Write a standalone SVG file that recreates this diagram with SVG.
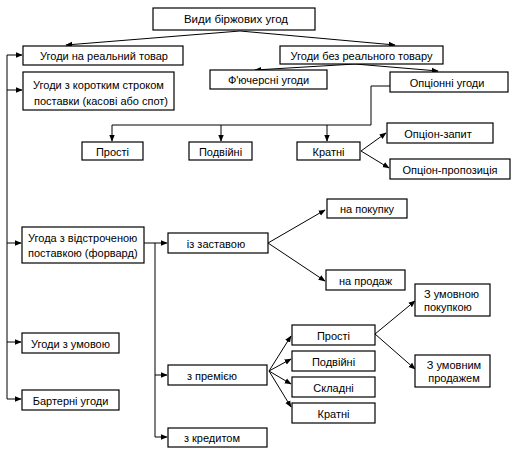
<svg xmlns="http://www.w3.org/2000/svg" width="518" height="456" viewBox="0 0 518 456">
<defs>
<marker id="ah" viewBox="0 0 10 10" refX="9" refY="5" markerWidth="7" markerHeight="7" markerUnits="userSpaceOnUse" orient="auto">
<path d="M0,1 L10,5 L0,9 z" fill="#000"/>
</marker>
<style>
rect{fill:#fff;stroke:#000;stroke-width:1.2}
text{font-family:"Liberation Sans",Arial,sans-serif;font-size:11px;fill:#000}
.c{text-anchor:middle}
.t{font-size:11.5px}
#connectors line,#connectors polyline{stroke:#000;stroke-width:1;fill:none}
.a{marker-end:url(#ah)}
</style>
</defs>
<rect x="0" y="0" width="518" height="456" style="fill:#fff;stroke:none"/>
<g id="connectors">
<line class="a" x1="240" y1="31" x2="66" y2="45"/>
<line class="a" x1="240" y1="31" x2="395" y2="45"/>
<line class="a" x1="355" y1="64" x2="255" y2="70"/>
<line class="a" x1="355" y1="64" x2="438" y2="71"/>
<polyline points="390,86 371,86 371,125 112,125"/>
<line class="a" x1="112" y1="125" x2="112" y2="141"/>
<line class="a" x1="221" y1="125" x2="221" y2="141"/>
<line class="a" x1="327" y1="125" x2="327" y2="141"/>
<line class="a" x1="361" y1="151" x2="386" y2="133"/>
<line class="a" x1="361" y1="151" x2="389" y2="168"/>
<line x1="7" y1="55" x2="7" y2="399"/>
<line class="a" x1="7" y1="55" x2="22" y2="55"/>
<line class="a" x1="7" y1="90" x2="22" y2="90"/>
<line class="a" x1="7" y1="243" x2="21" y2="243"/>
<line class="a" x1="7" y1="342" x2="21" y2="342"/>
<line class="a" x1="7" y1="399" x2="21" y2="399"/>
<line class="a" x1="144" y1="243" x2="167" y2="243"/>
<line x1="155" y1="243" x2="155" y2="437"/>
<line class="a" x1="155" y1="375" x2="167" y2="375"/>
<line class="a" x1="155" y1="437" x2="167" y2="437"/>
<line class="a" x1="268" y1="243" x2="325" y2="210"/>
<line class="a" x1="268" y1="243" x2="325" y2="281"/>
<line class="a" x1="269" y1="371" x2="291" y2="336"/>
<line class="a" x1="269" y1="371" x2="291" y2="359"/>
<line class="a" x1="269" y1="371" x2="291" y2="384"/>
<line class="a" x1="269" y1="371" x2="291" y2="407"/>
<line class="a" x1="375" y1="334" x2="415" y2="301"/>
<line class="a" x1="375" y1="334" x2="415" y2="369"/>
</g>
<g id="n-root"><rect x="153" y="8" width="162" height="22"/><text class="c t" x="236" y="23">Види біржових угод</text></g>
<g id="n-real"><rect x="23" y="46" width="160" height="19"/><text class="c" x="104" y="60">Угоди на реальний товар</text></g>
<g id="n-noreal"><rect x="280" y="46" width="163" height="18"/><text class="c" x="361.5" y="59.5">Угоди без реального товару</text></g>
<g id="n-short"><rect x="23" y="72" width="151" height="38"/><text x="33" y="89">Угоди з коротким строком</text><text x="34" y="105">поставки (касові або спот)</text></g>
<g id="n-futures"><rect x="210" y="70" width="117" height="19"/><text class="c" x="268.5" y="84">Ф'ючерсні угоди</text></g>
<g id="n-options"><rect x="390" y="72" width="118" height="20"/><text class="c" x="447" y="86.5">Опціонні угоди</text></g>
<g id="n-simple1"><rect x="82" y="142" width="61" height="18"/><text class="c" x="112.5" y="155.5">Прості</text></g>
<g id="n-double1"><rect x="189" y="142" width="63" height="18"/><text class="c" x="220.5" y="155.5">Подвійні</text></g>
<g id="n-multi1"><rect x="297" y="142" width="63" height="18"/><text class="c" x="328.5" y="155.5">Кратні</text></g>
<g id="n-call"><rect x="387" y="123" width="106" height="20"/><text class="c" x="438" y="137.5">Опціон-запит</text></g>
<g id="n-put"><rect x="390" y="159" width="120" height="20"/><text class="c" x="450" y="173.5">Опціон-пропозиція</text></g>
<g id="n-forward"><rect x="22" y="227" width="122" height="36"/><text x="28" y="242">Угода з відстроченою</text><text x="28" y="257">поставкою (форвард)</text></g>
<g id="n-pledge"><rect x="168" y="233" width="100" height="20"/><text class="c" x="216" y="247.5">із заставою</text></g>
<g id="n-buy"><rect x="327" y="199" width="80" height="19"/><text class="c" x="367" y="213">на покупку</text></g>
<g id="n-sell"><rect x="326" y="270" width="79" height="20"/><text class="c" x="365.5" y="284.5">на продаж</text></g>
<g id="n-condbuy"><rect x="415" y="284" width="75" height="32"/><text x="424" y="298">З умовною</text><text x="424" y="311">покупкою</text></g>
<g id="n-condsell"><rect x="415" y="355" width="75" height="32"/><text class="c" x="454" y="369">З умовним</text><text class="c" x="454" y="381.5">продажем</text></g>
<g id="n-simple2"><rect x="292" y="325" width="83" height="20"/><text class="c" x="333.5" y="339.5">Прості</text></g>
<g id="n-double2"><rect x="292" y="351" width="83" height="20"/><text class="c" x="333.5" y="365.5">Подвійні</text></g>
<g id="n-complex"><rect x="292" y="377" width="83" height="20"/><text class="c" x="333.5" y="391.5">Складні</text></g>
<g id="n-multi2"><rect x="292" y="403" width="83" height="20"/><text class="c" x="333.5" y="417.5">Кратні</text></g>
<g id="n-premium"><rect x="168" y="365" width="99" height="20"/><text class="c" x="212" y="379.5">з премією</text></g>
<g id="n-credit"><rect x="168" y="428" width="99" height="19"/><text class="c" x="212" y="442">з кредитом</text></g>
<g id="n-cond"><rect x="22" y="333" width="97" height="20"/><text class="c" x="70.5" y="347.5">Угоди з умовою</text></g>
<g id="n-barter"><rect x="22" y="390" width="97" height="20"/><text class="c" x="70.5" y="404.5">Бартерні угоди</text></g>
</svg>
